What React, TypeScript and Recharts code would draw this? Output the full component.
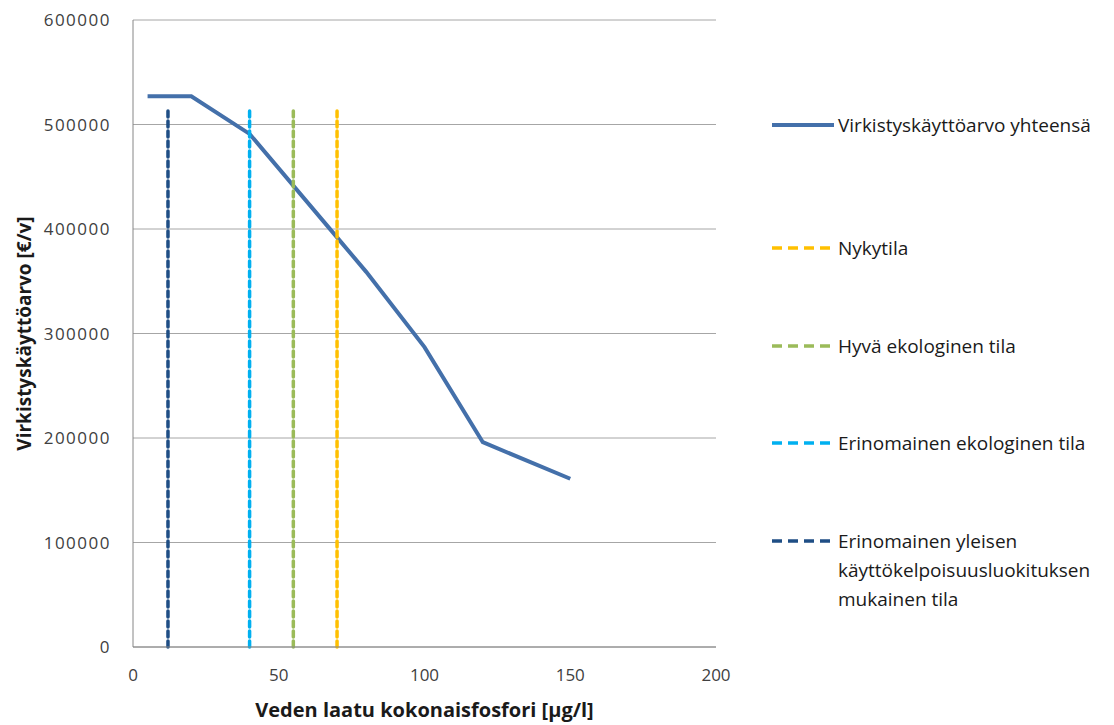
import { CartesianGrid, Line, LineChart, XAxis, YAxis } from 'recharts';

// Fosforipitoisuus (µg/l) ja virkistyskäyttöarvo (€/v)
const phosphorus = [5, 20, 40, 70, 80, 100, 120, 150];
const recreationValue = [527000, 527000, 491000, 392000, 359000, 287000, 196000, 161000];

// Tilaluokkien rajat pystyviivoina
const stateNames = [
  'Nykytila',
  'Hyvä ekologinen tila',
  'Erinomainen ekologinen tila',
  'Erinomainen yleisen käyttökelpoisuusluokituksen mukainen tila'
];
const stateLimits = [70, 55, 40, 12];
const stateColors = ['#FFC000', '#9BBB59', '#00B0F0', '#1F4E85'];
const stateTop = 513000;

const totalName = 'Virkistyskäyttöarvo yhteensä';
const totalColor = '#4470AA';

const xTicks = [0, 50, 100, 150, 200];
const yTicks = [0, 100000, 200000, 300000, 400000, 500000, 600000];

const totalData = phosphorus.map((x, i) => ({ x, y: recreationValue[i] }));
const stateData = stateLimits.map((x) => [
  { x, y: 0 },
  { x, y: stateTop }
]);

const font = '"Open Sans", sans-serif';

const legendRows = [
  { label: totalName, color: totalColor, dashed: false, top: 125 },
  ...stateNames.map((label, i) => ({
    label,
    color: stateColors[i],
    dashed: true,
    top: [248, 346, 443, 541][i]
  }))
];

function ChartLegend() {
  return (
    <>
      {legendRows.map((row) => (
        <div
          key={row.label}
          style={{
            position: 'absolute',
            left: 762,
            top: row.top - 8 - 14,
            display: 'flex',
            alignItems: 'flex-start',
            fontFamily: font,
            fontSize: 19,
            color: '#1a1a1a',
            lineHeight: '29px'
          }}
        >
          <svg width={68} height={28} style={{ flex: 'none' }}>
            <line
              x1={2}
              y1={14}
              x2={64}
              y2={14}
              stroke={row.color}
              strokeWidth={row.dashed ? 3.5 : 4}
              strokeDasharray={row.dashed ? '10 6' : undefined}
            />
          </svg>
          <span style={{ width: 290 }}>{row.label}</span>
        </div>
      ))}
    </>
  );
}

export default function App() {
  return (
    <div style={{ position: 'relative', width: 1100, height: 717 }}>
      <LineChart
        width={1100}
        height={717}
        margin={{ top: 12, right: 392, bottom: 0, left: 0 }}
      >
        <CartesianGrid vertical={false} stroke="#A6A6A6" strokeWidth={1} />
        <XAxis
          type="number"
          dataKey="x"
          domain={[0, 200]}
          ticks={xTicks}
          allowDataOverflow
          height={78}
          stroke="#868686"
          tickLine={false}
          tickSize={0}
          tickMargin={22}
          tick={{ fill: '#404040', fontSize: 17, fontFamily: font }}
          label={{
            value: 'Veden laatu kokonaisfosfori [μg/l]',
            position: 'insideBottom',
            offset: 8,
            fill: '#1a1a1a',
            fontSize: 20,
            fontWeight: 'bold',
            fontFamily: font
          }}
        />
        <YAxis
          type="number"
          domain={[0, 600000]}
          ticks={yTicks}
          width={125}
          stroke="#868686"
          tickLine={false}
          tickSize={0}
          tickMargin={22}
          tick={{ fill: '#404040', fontSize: 17, fontFamily: font, letterSpacing: 1.5 }}
          label={{
            value: 'Virkistyskäyttöarvo [€/v]',
            angle: -90,
            position: 'insideLeft',
            offset: 16,
            fill: '#1a1a1a',
            fontSize: 19,
            fontWeight: 'bold',
            fontFamily: font,
            style: { textAnchor: 'middle' }
          }}
        />
        <Line
          data={totalData}
          dataKey="y"
          name={totalName}
          stroke={totalColor}
          strokeWidth={4}
          dot={false}
          activeDot={false}
          isAnimationActive={false}
        />
        {stateData.map((d, i) => (
          <Line
            key={stateNames[i]}
            data={d}
            dataKey="y"
            name={stateNames[i]}
            stroke={stateColors[i]}
            strokeWidth={3.5}
            strokeDasharray="6 4"
            strokeLinecap="round"
            dot={false}
            activeDot={false}
            isAnimationActive={false}
          />
        ))}
      </LineChart>
      <ChartLegend />
    </div>
  );
}
